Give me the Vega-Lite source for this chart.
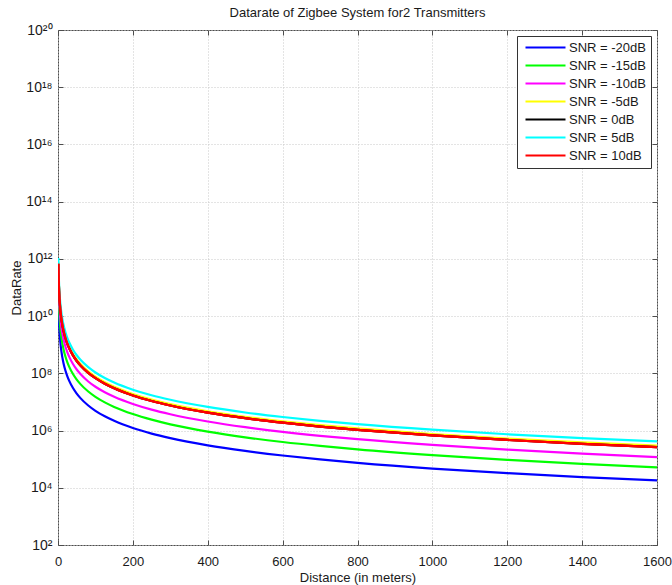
{
  "$schema": "https://vega.github.io/schema/vega-lite/v6.json",
  "width": 599,
  "height": 515,
  "autosize": "none",
  "padding": {"left": 58, "top": 30, "right": 15, "bottom": 40},
  "background": "white",
  "config": {
    "font": "Liberation Sans",
    "view": {"stroke": "#4d4d4d", "strokeWidth": 1},
    "axis": {
      "labelFont": "Liberation Sans",
      "labelFontSize": 13,
      "labelColor": "#1a1a1a",
      "titleFont": "Liberation Sans",
      "titleFontSize": 13,
      "titleFontWeight": "normal",
      "titleColor": "#1a1a1a",
      "tickColor": "#4d4d4d",
      "tickSize": -5,
      "domainColor": "#4d4d4d",
      "gridColor": "#c8c8c8",
      "gridDash": [1, 2],
      "gridWidth": 1
    }
  },
  "title": {
    "text": "Datarate of Zigbee System for2 Transmitters",
    "font": "Liberation Sans",
    "fontSize": 13,
    "fontWeight": "normal",
    "color": "#1a1a1a",
    "offset": 3
  },
  "data": {
    "values": [
      {"d": 1, "SNR = -20dB": 4.90e10, "SNR = -15dB": 1.51e11, "SNR = -10dB": 3.39e11, "SNR = -5dB": 7.59e11, "SNR = 0dB": 6.76e11, "SNR = 5dB": 1.07e12, "SNR = 10dB": 6.76e11},
      {"d": 1.5, "SNR = -20dB": 2.18e10, "SNR = -15dB": 6.71e10, "SNR = -10dB": 1.51e11, "SNR = -5dB": 3.37e11, "SNR = 0dB": 3.00e11, "SNR = 5dB": 4.76e11, "SNR = 10dB": 3.00e11},
      {"d": 2, "SNR = -20dB": 1.225e10, "SNR = -15dB": 3.78e10, "SNR = -10dB": 8.48e10, "SNR = -5dB": 1.90e11, "SNR = 0dB": 1.69e11, "SNR = 5dB": 2.68e11, "SNR = 10dB": 1.69e11},
      {"d": 3, "SNR = -20dB": 5.44e9, "SNR = -15dB": 1.68e10, "SNR = -10dB": 3.77e10, "SNR = -5dB": 8.43e10, "SNR = 0dB": 7.51e10, "SNR = 5dB": 1.19e11, "SNR = 10dB": 7.51e10},
      {"d": 4, "SNR = -20dB": 3.06e9, "SNR = -15dB": 9.44e9, "SNR = -10dB": 2.12e10, "SNR = -5dB": 4.74e10, "SNR = 0dB": 4.23e10, "SNR = 5dB": 6.69e10, "SNR = 10dB": 4.23e10},
      {"d": 5, "SNR = -20dB": 1.96e9, "SNR = -15dB": 6.04e9, "SNR = -10dB": 1.36e10, "SNR = -5dB": 3.04e10, "SNR = 0dB": 2.70e10, "SNR = 5dB": 4.28e10, "SNR = 10dB": 2.70e10},
      {"d": 6, "SNR = -20dB": 1.36e9, "SNR = -15dB": 4.19e9, "SNR = -10dB": 9.42e9, "SNR = -5dB": 2.11e10, "SNR = 0dB": 1.88e10, "SNR = 5dB": 2.97e10, "SNR = 10dB": 1.88e10},
      {"d": 8, "SNR = -20dB": 7.66e8, "SNR = -15dB": 2.36e9, "SNR = -10dB": 5.30e9, "SNR = -5dB": 1.19e10, "SNR = 0dB": 1.06e10, "SNR = 5dB": 1.67e10, "SNR = 10dB": 1.06e10},
      {"d": 10, "SNR = -20dB": 4.90e8, "SNR = -15dB": 1.51e9, "SNR = -10dB": 3.39e9, "SNR = -5dB": 7.59e9, "SNR = 0dB": 6.76e9, "SNR = 5dB": 1.07e10, "SNR = 10dB": 6.76e9},
      {"d": 12, "SNR = -20dB": 3.40e8, "SNR = -15dB": 1.05e9, "SNR = -10dB": 2.35e9, "SNR = -5dB": 5.27e9, "SNR = 0dB": 4.69e9, "SNR = 5dB": 7.43e9, "SNR = 10dB": 4.69e9},
      {"d": 15, "SNR = -20dB": 2.18e8, "SNR = -15dB": 6.71e8, "SNR = -10dB": 1.51e9, "SNR = -5dB": 3.37e9, "SNR = 0dB": 3.00e9, "SNR = 5dB": 4.76e9, "SNR = 10dB": 3.00e9},
      {"d": 20, "SNR = -20dB": 1.225e8, "SNR = -15dB": 3.78e8, "SNR = -10dB": 8.48e8, "SNR = -5dB": 1.90e9, "SNR = 0dB": 1.69e9, "SNR = 5dB": 2.68e9, "SNR = 10dB": 1.69e9},
      {"d": 25, "SNR = -20dB": 7.84e7, "SNR = -15dB": 2.42e8, "SNR = -10dB": 5.42e8, "SNR = -5dB": 1.21e9, "SNR = 0dB": 1.08e9, "SNR = 5dB": 1.71e9, "SNR = 10dB": 1.08e9},
      {"d": 30, "SNR = -20dB": 5.44e7, "SNR = -15dB": 1.68e8, "SNR = -10dB": 3.77e8, "SNR = -5dB": 8.43e8, "SNR = 0dB": 7.51e8, "SNR = 5dB": 1.19e9, "SNR = 10dB": 7.51e8},
      {"d": 40, "SNR = -20dB": 3.06e7, "SNR = -15dB": 9.44e7, "SNR = -10dB": 2.12e8, "SNR = -5dB": 4.74e8, "SNR = 0dB": 4.23e8, "SNR = 5dB": 6.69e8, "SNR = 10dB": 4.23e8},
      {"d": 50, "SNR = -20dB": 1.96e7, "SNR = -15dB": 6.04e7, "SNR = -10dB": 1.36e8, "SNR = -5dB": 3.04e8, "SNR = 0dB": 2.70e8, "SNR = 5dB": 4.28e8, "SNR = 10dB": 2.70e8},
      {"d": 60, "SNR = -20dB": 1.36e7, "SNR = -15dB": 4.19e7, "SNR = -10dB": 9.42e7, "SNR = -5dB": 2.11e8, "SNR = 0dB": 1.88e8, "SNR = 5dB": 2.97e8, "SNR = 10dB": 1.88e8},
      {"d": 80, "SNR = -20dB": 7.66e6, "SNR = -15dB": 2.36e7, "SNR = -10dB": 5.30e7, "SNR = -5dB": 1.19e8, "SNR = 0dB": 1.06e8, "SNR = 5dB": 1.67e8, "SNR = 10dB": 1.06e8},
      {"d": 100, "SNR = -20dB": 4.90e6, "SNR = -15dB": 1.51e7, "SNR = -10dB": 3.39e7, "SNR = -5dB": 7.59e7, "SNR = 0dB": 6.76e7, "SNR = 5dB": 1.07e8, "SNR = 10dB": 6.76e7},
      {"d": 125, "SNR = -20dB": 3.14e6, "SNR = -15dB": 9.66e6, "SNR = -10dB": 2.17e7, "SNR = -5dB": 4.86e7, "SNR = 0dB": 4.33e7, "SNR = 5dB": 6.85e7, "SNR = 10dB": 4.33e7},
      {"d": 150, "SNR = -20dB": 2.18e6, "SNR = -15dB": 6.71e6, "SNR = -10dB": 1.51e7, "SNR = -5dB": 3.37e7, "SNR = 0dB": 3.00e7, "SNR = 5dB": 4.76e7, "SNR = 10dB": 3.00e7},
      {"d": 200, "SNR = -20dB": 1.225e6, "SNR = -15dB": 3.78e6, "SNR = -10dB": 8.48e6, "SNR = -5dB": 1.90e7, "SNR = 0dB": 1.69e7, "SNR = 5dB": 2.68e7, "SNR = 10dB": 1.69e7},
      {"d": 250, "SNR = -20dB": 7.84e5, "SNR = -15dB": 2.40e6, "SNR = -10dB": 5.38e6, "SNR = -5dB": 1.21e7, "SNR = 0dB": 1.08e7, "SNR = 5dB": 1.71e7, "SNR = 10dB": 1.08e7},
      {"d": 300, "SNR = -20dB": 5.44e5, "SNR = -15dB": 1.65e6, "SNR = -10dB": 3.71e6, "SNR = -5dB": 8.43e6, "SNR = 0dB": 7.51e6, "SNR = 5dB": 1.19e7, "SNR = 10dB": 7.51e6},
      {"d": 400, "SNR = -20dB": 3.04e5, "SNR = -15dB": 9.20e5, "SNR = -10dB": 2.07e6, "SNR = -5dB": 4.74e6, "SNR = 0dB": 4.23e6, "SNR = 5dB": 6.69e6, "SNR = 10dB": 4.23e6},
      {"d": 500, "SNR = -20dB": 1.94e5, "SNR = -15dB": 5.80e5, "SNR = -10dB": 1.31e6, "SNR = -5dB": 3.04e6, "SNR = 0dB": 2.70e6, "SNR = 5dB": 4.28e6, "SNR = 10dB": 2.70e6},
      {"d": 600, "SNR = -20dB": 1.34e5, "SNR = -15dB": 3.98e5, "SNR = -10dB": 9.00e5, "SNR = -5dB": 2.11e6, "SNR = 0dB": 1.88e6, "SNR = 5dB": 2.97e6, "SNR = 10dB": 1.88e6},
      {"d": 700, "SNR = -20dB": 9.80e4, "SNR = -15dB": 2.90e5, "SNR = -10dB": 6.55e5, "SNR = -5dB": 1.55e6, "SNR = 0dB": 1.38e6, "SNR = 5dB": 2.18e6, "SNR = 10dB": 1.38e6},
      {"d": 800, "SNR = -20dB": 7.45e4, "SNR = -15dB": 2.20e5, "SNR = -10dB": 4.98e5, "SNR = -5dB": 1.19e6, "SNR = 0dB": 1.06e6, "SNR = 5dB": 1.67e6, "SNR = 10dB": 1.06e6},
      {"d": 1000, "SNR = -20dB": 4.70e4, "SNR = -15dB": 1.39e5, "SNR = -10dB": 3.15e5, "SNR = -5dB": 7.59e5, "SNR = 0dB": 6.76e5, "SNR = 5dB": 1.07e6, "SNR = 10dB": 6.76e5},
      {"d": 1200, "SNR = -20dB": 3.25e4, "SNR = -15dB": 9.50e4, "SNR = -10dB": 2.16e5, "SNR = -5dB": 5.27e5, "SNR = 0dB": 4.69e5, "SNR = 5dB": 7.43e5, "SNR = 10dB": 4.69e5},
      {"d": 1400, "SNR = -20dB": 2.37e4, "SNR = -15dB": 6.90e4, "SNR = -10dB": 1.57e5, "SNR = -5dB": 3.87e5, "SNR = 0dB": 3.45e5, "SNR = 5dB": 5.46e5, "SNR = 10dB": 3.45e5},
      {"d": 1600, "SNR = -20dB": 1.80e4, "SNR = -15dB": 5.20e4, "SNR = -10dB": 1.18e5, "SNR = -5dB": 2.96e5, "SNR = 0dB": 2.64e5, "SNR = 5dB": 4.18e5, "SNR = 10dB": 2.64e5}
    ]
  },
  "transform": [
    {
      "fold": ["SNR = -20dB", "SNR = -15dB", "SNR = -10dB", "SNR = -5dB", "SNR = 0dB", "SNR = 5dB", "SNR = 10dB"],
      "as": ["series", "rate"]
    }
  ],
  "layer": [
    {
      "mark": {"type": "line", "strokeWidth": 2.2, "interpolate": "monotone", "clip": true},
      "encoding": {
        "x": {
          "field": "d",
          "type": "quantitative",
          "scale": {"domain": [0, 1600], "nice": false, "zero": false},
          "axis": {
            "orient": "bottom",
            "title": "Distance (in meters)",
            "values": [0, 200, 400, 600, 800, 1000, 1200, 1400, 1600],
            "format": "d",
            "grid": true,
            "domain": false,
            "labelPadding": 15,
            "labelFlush": false,
            "titlePadding": 3
          }
        },
        "y": {
          "field": "rate",
          "type": "quantitative",
          "scale": {"type": "log", "domain": [100, 1e20], "nice": false},
          "axis": {
            "orient": "left",
            "title": "DataRate",
            "values": [1e2, 1e4, 1e6, 1e8, 1e10, 1e12, 1e14, 1e16, 1e18, 1e20],
            "labelExpr": "'10' + replace(replace(replace(replace(replace(replace(replace(replace(toString(round(log(datum.value)/LN10)),'0','⁰'),'1','¹'),'2','²'),'4','⁴'),'6','⁶'),'8','⁸'),'3','³'),'5','⁵')",
            "labelFontSize": 14,
            "grid": true,
            "domain": false,
            "labelPadding": 11,
            "labelFlush": false,
            "titlePadding": 2
          }
        },
        "color": {
          "field": "series",
          "type": "nominal",
          "scale": {
            "domain": ["SNR = -20dB", "SNR = -15dB", "SNR = -10dB", "SNR = -5dB", "SNR = 0dB", "SNR = 5dB", "SNR = 10dB"],
            "range": ["#0000ff", "#00ff00", "#ff00ff", "#ffff00", "#000000", "#00ffff", "#ff0000"]
          },
          "legend": {
            "orient": "top-right",
            "offset": 6,
            "title": null,
            "fillColor": "white",
            "strokeColor": "#333333",
            "padding": 5,
            "symbolType": "M-4,0H4",
            "symbolSize": 100,
            "symbolStrokeWidth": 2,
            "symbolOffset": 17,
            "labelOffset": 17,
            "labelFont": "Liberation Sans",
            "labelFontSize": 13,
            "labelColor": "#1a1a1a",
            "rowPadding": 4
          }
        }
      }
    },
    {
      "transform": [{"filter": {"field": "series", "equal": "SNR = 10dB"}}],
      "mark": {"type": "line", "strokeWidth": 2.2, "interpolate": "monotone", "clip": true, "color": "#ff0000"},
      "encoding": {
        "x": {"field": "d", "type": "quantitative", "axis": null},
        "y": {"field": "rate", "type": "quantitative", "axis": null}
      }
    },
    {
      "mark": {"type": "line", "opacity": 0},
      "encoding": {
        "x": {
          "field": "d",
          "type": "quantitative",
          "axis": {
            "orient": "top",
            "title": null,
            "values": [0, 200, 400, 600, 800, 1000, 1200, 1400, 1600],
            "labels": false,
            "grid": false,
            "domain": false
          }
        },
        "y": {
          "field": "rate",
          "type": "quantitative",
          "axis": {
            "orient": "right",
            "title": null,
            "values": [1e2, 1e4, 1e6, 1e8, 1e10, 1e12, 1e14, 1e16, 1e18, 1e20],
            "labels": false,
            "grid": false,
            "domain": false
          }
        },
        "detail": {"field": "series"}
      }
    }
  ],
  "resolve": {"axis": {"x": "independent", "y": "independent"}}
}
